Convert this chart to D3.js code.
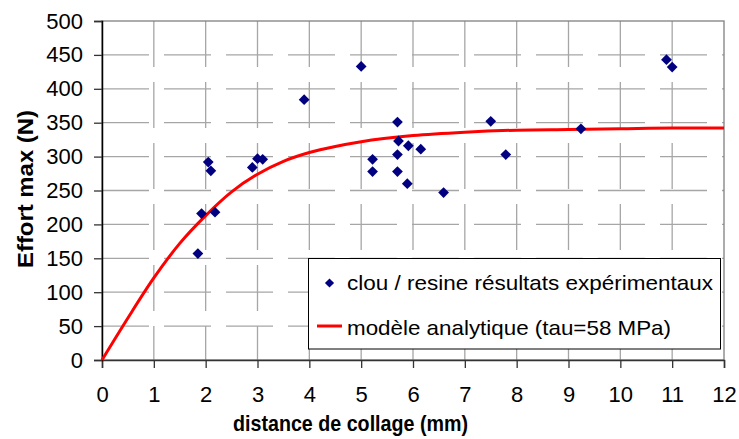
<!DOCTYPE html>
<html><head><meta charset="utf-8">
<script src="https://cdn.jsdelivr.net/npm/d3@7"></script>
<style>body{margin:0;background:#fff}svg{display:block;font-family:"Liberation Sans",Arial,sans-serif}</style>
</head><body><svg id="c" width="739" height="439"></svg>
<script>
const expX = [1.85,1.92,2.05,2.10,2.18,2.90,3.00,3.10,3.90,5.00,5.22,5.22,5.70,5.72,5.70,5.70,5.91,5.89,6.15,6.59,7.50,7.79,9.24,10.89,11.00];
const expY = [157,216,292,279,218,284,297,296,384,433,296,278,351,323,303,278,316,260,311,247,352,303,341,443,432];
const modelX = [0,0.5,1,1.5,2,2.5,3,3.5,4,4.5,5,6,7,8,9,10,11,12];
const modelY = [0,62,121,172,213,248,274,293,306,315,322,331,336,339,340,341,342,342];
const xTicks = [0,1,2,3,4,5,6,7,8,9,10,11,12];
const yTicks = [0,50,100,150,200,250,300,350,400,450,500];
const legendLabels = ["clou / resine résultats expérimentaux","modèle analytique (tau=58 MPa)"];
const xTitle = "distance de collage (mm)";
const yTitle = "Effort max (N)";

const svg = d3.select("#c");
const L=102, R=724, T=21, B=360;
const x = d3.scaleLinear().domain([0,12]).range([L,R]);
const y = d3.scaleLinear().domain([0,500]).range([B,T]);

// gridlines
svg.append("g").selectAll("line").data(yTicks.filter(d=>d>0&&d<500)).join("line")
  .attr("x1",L).attr("x2",R).attr("y1",d=>y(d)).attr("y2",d=>y(d))
  .attr("stroke","#a6a6a6").attr("stroke-width",1.3).attr("stroke-dasharray","47,15");
svg.append("g").selectAll("line").data(xTicks.filter(d=>d>0&&d<12)).join("line")
  .attr("x1",d=>x(d)).attr("x2",d=>x(d)).attr("y1",T).attr("y2",B)
  .attr("stroke","#a6a6a6").attr("stroke-width",1.3).attr("stroke-dasharray","46,15");

// plot border
svg.append("rect").attr("x",L).attr("y",T).attr("width",R-L).attr("height",B-T)
  .attr("fill","none").attr("stroke","#808080").attr("stroke-width",1.3);

// axes
const xAxis = d3.axisBottom(x).tickValues(xTicks).tickSize(8).tickPadding(18).tickFormat(d3.format("d"));
const gx = svg.append("g").attr("transform",`translate(0,${B})`).call(xAxis);
gx.select(".domain").attr("stroke","#333").attr("stroke-width",1.5);
gx.selectAll(".tick line").attr("stroke","#333").attr("stroke-width",1.3);
gx.selectAll("text").attr("font-size",22).attr("fill","#000").attr("font-family","Liberation Sans, Arial, sans-serif");

const yAxis = d3.axisLeft(y).tickValues(yTicks).tickSize(8).tickPadding(11).tickFormat(d3.format("d"));
const gy = svg.append("g").attr("transform",`translate(${L},0)`).call(yAxis);
gy.select(".domain").attr("stroke","#000").attr("stroke-width",1.5);
gy.selectAll(".tick line").attr("stroke","#333").attr("stroke-width",1.3);
gy.selectAll("text").attr("font-size",22).attr("fill","#000").attr("font-family","Liberation Sans, Arial, sans-serif");

// model curve
const line = d3.line().x(d=>x(d[0])).y(d=>y(d[1])).curve(d3.curveMonotoneX);
svg.append("path").datum(modelX.map((v,i)=>[v,modelY[i]]))
  .attr("d",line).attr("fill","none").attr("stroke","#ff0000").attr("stroke-width",3);

// experimental points
svg.append("g").selectAll("path").data(expX.map((v,i)=>[v,expY[i]])).join("path")
  .attr("transform",d=>`translate(${x(d[0])},${y(d[1])}) rotate(45)`)
  .attr("d",d3.symbol().type(d3.symbolSquare).size(58)).attr("fill","#000080");

// legend
const lg = svg.append("g");
lg.append("rect").attr("x",308.5).attr("y",258.5).attr("width",412).attr("height",90.5)
  .attr("fill","#fff").attr("stroke","#000").attr("stroke-width",1);
lg.append("path").attr("transform","translate(329.5,283) rotate(45)")
  .attr("d",d3.symbol().type(d3.symbolSquare).size(42)).attr("fill","#000080");
lg.append("line").attr("x1",317).attr("x2",342).attr("y1",326).attr("y2",326)
  .attr("stroke","#ff0000").attr("stroke-width",3);
lg.append("text").attr("x",347).attr("y",290).attr("font-size",21)
  .attr("textLength",366).attr("lengthAdjust","spacingAndGlyphs").text(legendLabels[0]);
lg.append("text").attr("x",347).attr("y",335).attr("font-size",21)
  .attr("textLength",324).attr("lengthAdjust","spacingAndGlyphs").text(legendLabels[1]);

// titles
svg.append("text").attr("x",350.5).attr("y",431).attr("text-anchor","middle")
  .attr("font-size",22).attr("font-weight","bold")
  .attr("textLength",235).attr("lengthAdjust","spacingAndGlyphs").text(xTitle);
svg.append("text").attr("transform","translate(33,189) rotate(-90)").attr("text-anchor","middle")
  .attr("font-size",22).attr("font-weight","bold")
  .attr("textLength",158).attr("lengthAdjust","spacingAndGlyphs").text(yTitle);
</script></body></html>
